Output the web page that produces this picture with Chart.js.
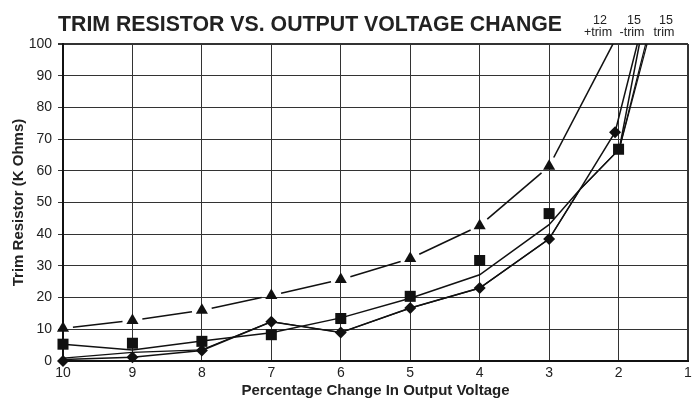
<!DOCTYPE html>
<html><head><meta charset="utf-8">
<script src="https://cdn.jsdelivr.net/npm/chart.js@4.4.1/dist/chart.umd.min.js"></script>
<style>html,body{margin:0;padding:0;background:#fff}#wrap{width:696px;height:402px;position:relative}</style>
</head><body><div id="wrap"><canvas id="c" width="696" height="402"></canvas></div>
<script>
// ---- data ----
const seriesNames = ['12 +trim', '15 -trim', '15 trim'];
const xTickValues = [10, 9, 8, 7, 6, 5, 4, 3, 2, 1];
const yTickValues = [0, 10, 20, 30, 40, 50, 60, 70, 80, 90, 100];

// markers
const triX = [10, 9, 8, 7, 6, 5, 4, 3];
const triY = [10.3, 12.8, 16.0, 20.7, 25.7, 32.3, 42.7, 61.4];
const sqX = [10, 9, 8, 7, 6, 5, 4, 3, 2];
const sqY = [5.3, 5.6, 6.2, 8.3, 13.4, 20.4, 31.7, 46.5, 66.8];
const diaX = [10, 9, 8, 7, 6, 5, 4, 3, 2.05];
const diaY = [0.0, 1.2, 3.3, 12.4, 9.0, 16.7, 23.0, 38.5, 72.2];

// curves
const triLineX = [10, 9, 8, 7, 6, 5, 4, 3, 2.08];
const triLineY = [10.3, 12.8, 16.0, 20.7, 25.7, 32.3, 42.7, 61.4, 100];
const diaLineX = [10, 9, 8, 7, 6, 5, 4, 3, 2.56, 2.05, 1.73];
const diaLineY = [0.5, 1.2, 3.3, 12.4, 9.0, 16.7, 23.0, 38.5, 54, 72.2, 100];
const sqLineX = [10, 9, 8, 7, 6, 5, 4, 3, 2.56, 1.99, 1.70];
const sqLineY = [5.3, 3.5, 6.3, 8.9, 13.6, 19.8, 27.2, 43.0, 54, 66.8, 100];
const trimLineX = [10, 9, 8, 7, 6, 5, 4, 3, 2.56, 1.99, 1.61];
const trimLineY = [0.9, 2.7, 3.5, 12.4, 9.0, 16.7, 23.0, 38.5, 54, 66.8, 100];
const trimLine2X = [1.99, 1.59];
const trimLine2Y = [66.8, 100];

const pts = (xs, ys) => xs.map((x, i) => ({x: x, y: ys[i]}));

const FONT = '"Liberation Sans", Arial, Helvetica, sans-serif';
const INK = '#111';
const GAP = 10;
function segLen(c) { return Math.hypot(c.p1.x - c.p0.x, c.p1.y - c.p0.y); }
function endGap(c) { return c.p1DataIndex < triY.length ? GAP : 0; }
function dashLen(c) { return Math.max(segLen(c) - GAP - endGap(c), 0.01); }

const markerBase = {showLine: false, clip: false, order: 0, backgroundColor: INK, borderColor: INK, pointBorderWidth: 0};
const lineBase = {showLine: true, pointRadius: 0, borderColor: INK, borderWidth: 1.5, order: 1, fill: false, tension: 0};

const textPlugin = {
  id: 'texts',
  afterDraw(chart) {
    const ctx = chart.ctx;
    ctx.save();
    ctx.fillStyle = '#222';
    ctx.textBaseline = 'alphabetic';
    ctx.textAlign = 'left';
    ctx.font = 'bold 21.3px ' + FONT;
    ctx.fillText('TRIM RESISTOR VS. OUTPUT VOLTAGE CHANGE', 58, 31);
    ctx.font = '12.5px ' + FONT;
    ctx.textAlign = 'center';
    const labels = [['12', '+trim', 598], ['15', '-trim', 632], ['15', 'trim', 664]];
    labels.forEach(l => {
      ctx.fillText(l[0], l[2] + 2, 24);
      ctx.fillText(l[1], l[2], 36);
    });
    ctx.restore();
  }
};

new Chart(document.getElementById('c'), {
  type: 'scatter',
  data: {
    datasets: [
      Object.assign({}, markerBase, {label: seriesNames[0], data: pts(triX, triY), pointStyle: 'triangle', pointRadius: 7}),
      Object.assign({}, markerBase, {label: seriesNames[1], data: pts(sqX, sqY), pointStyle: 'rect', pointRadius: 7.8}),
      Object.assign({}, markerBase, {label: seriesNames[2], data: pts(diaX, diaY), pointStyle: 'rectRot', pointRadius: 6}),
      Object.assign({}, lineBase, {label: seriesNames[0] + ' curve', data: pts(triLineX, triLineY), borderWidth: 1.6,
        segment: {
          borderDash: c => [dashLen(c), 100000],
          borderDashOffset: c => dashLen(c) + 100000 - GAP
        }}),
      Object.assign({}, lineBase, {label: seriesNames[1] + ' curve', data: pts(sqLineX, sqLineY)}),
      Object.assign({}, lineBase, {label: seriesNames[2] + ' curve', data: pts(diaLineX, diaLineY)}),
      Object.assign({}, lineBase, {label: seriesNames[2] + ' curve b', data: pts(trimLineX, trimLineY), borderWidth: 1.2}),
      Object.assign({}, lineBase, {label: seriesNames[2] + ' curve c', data: pts(trimLine2X, trimLine2Y), borderWidth: 1.2})
    ]
  },
  options: {
    responsive: false,
    animation: false,
    devicePixelRatio: 1,
    layout: {padding: {top: 44, right: 8, bottom: 0, left: 0}},
    plugins: {legend: {display: false}, tooltip: {enabled: false}, title: {display: false}},
    scales: {
      x: {
        type: 'linear', reverse: true, min: 1, max: 10,
        afterBuildTicks: s => { s.ticks = xTickValues.map(v => ({value: v})); },
        afterFit: s => { s.height = 41; },
        ticks: {color: '#222', font: {family: FONT, size: 14}, padding: 4, maxRotation: 0, autoSkip: false},
        grid: {color: '#333', lineWidth: c => (c.tick && c.tick.value === 1 ? 2 : 1), drawTicks: false},
        border: {display: true, color: INK, width: 2},
        title: {display: true, text: 'Percentage Change In Output Voltage', color: '#222',
          font: {family: FONT, size: 15, weight: 'bold'}, padding: {top: 0, bottom: 2}}
      },
      y: {
        type: 'linear', min: 0, max: 100,
        afterBuildTicks: s => { s.ticks = yTickValues.map(v => ({value: v})); },
        afterFit: s => { s.width = 63; },
        ticks: {color: '#222', font: {family: FONT, size: 14}, padding: 6, autoSkip: false},
        grid: {color: '#333', lineWidth: c => (c.tick && c.tick.value === 100 ? 2 : 1), drawTicks: true, tickLength: 5},
        border: {display: true, color: INK, width: 2},
        title: {display: true, text: 'Trim Resistor (K Ohms)', color: '#222',
          font: {family: FONT, size: 15, weight: 'bold'}, padding: {top: 10, bottom: 0}}
      }
    }
  },
  plugins: [textPlugin]
});
</script>
</body></html>
